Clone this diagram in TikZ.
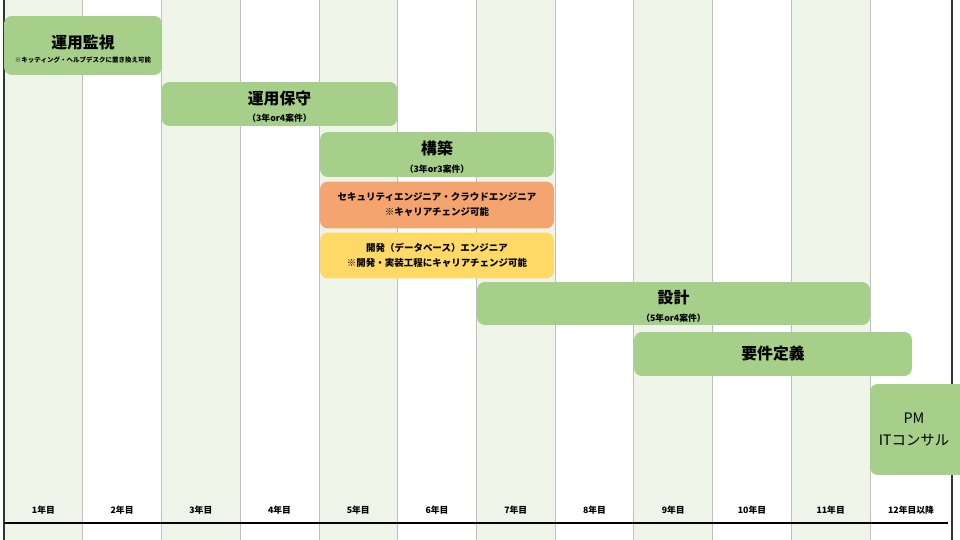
\documentclass[tikz,border=0pt]{standalone}
\usepackage{fontspec}
\setmainfont{Noto Sans CJK JP}
\usetikzlibrary{positioning}
\definecolor{colg}{HTML}{EEF5E8}
\definecolor{barg}{HTML}{A6D08A}
\definecolor{baro}{HTML}{F4A46F}
\definecolor{bary}{HTML}{FFD966}
\newcommand{\subtxt}[1]{{\fontsize{5}{6}\selectfont #1}}
\newcommand{\tstrut}[1]{\rule{0pt}{#1}}

\begin{document}
\begin{tikzpicture}[x=0.02cm, y=-0.02cm,
  bar/.style={fill=barg, rounded corners=4.5pt, align=center, inner sep=0pt, font=\fontsize{9}{10}\selectfont\bfseries},
  sbar/.style={bar, font=\fontsize{5.4}{8.5}\selectfont\bfseries},
  yr/.style={font=\fontsize{5}{6}\selectfont\bfseries},
  sep/.style={draw=black!25, line width=0.4pt},
]
\useasboundingbox (0,0) rectangle (960,540);
\fill[white] (0,0) rectangle (960,540);
% year columns
\foreach \i in {1,3,...,11}
  \fill[colg] ({4+78.73*(\i-1)},0) rectangle ({4+78.73*\i},540);
\foreach \i in {1,...,11}
  \draw[sep] ({4+78.73*\i},0) -- ({4+78.73*\i},540);
\draw[black!80, line width=0.9pt] (4,0) -- (4,540);
\draw[black!80, line width=0.9pt] (952,0) -- (952,540);
\foreach \i in {1,...,11}
  \node[yr] (y\i) at ({4+78.73*(\i-0.5)},510) {\i 年目};
\node[yr] (y12) at (911,510) {12年目以降};
\coordinate (hl) at (4,523);
\coordinate (hr) at (948,523);
\draw[black, line width=0.8pt] (hl) -- (hr);

% bars
\node[bar, minimum width=3.16cm, minimum height=1.18cm] (kanshi) at (83,45.5)
  {\tstrut{12pt}運用監視\\[-2pt]{\fontsize{3.7}{4.5}\selectfont ※キッティング・ヘルプデスクに置き換え可能}};
\node[bar, minimum width=4.72cm, minimum height=0.88cm] (hoshu) at (279.5,104)
  {\tstrut{10.7pt}運用保守\\[0pt]\subtxt{（3年or4案件）}};
\node[bar, minimum width=4.68cm, minimum height=0.9cm] (kochiku) at (437,154.5)
  {\tstrut{10.7pt}構築\\[0pt]\subtxt{（3年or3案件）}};
\node[sbar, fill=baro, minimum width=4.68cm, minimum height=0.94cm] (sec) at (437,205)
  {セキュリティエンジニア・クラウドエンジニア\\※キャリアチェンジ可能};
\node[sbar, fill=bary, minimum width=4.68cm, minimum height=0.92cm] (dev) at (437,255.5)
  {開発（データベース）エンジニア\\※開発・実装工程にキャリアチェンジ可能};
\node[bar, minimum width=7.86cm, minimum height=0.86cm] (sekkei) at (673.5,303.5)
  {\tstrut{10.7pt}設計\\[0pt]\subtxt{（5年or4案件）}};
\node[bar, minimum width=5.56cm, minimum height=0.88cm] (yoken) at (773,354) {要件定義};
\node[bar, minimum width=2.4cm, minimum height=1.82cm] (pm) at (930,429.5) {};
\node[align=center, font=\fontsize{8.2}{12.5}\selectfont] (pmtxt) at (914,429.5) {PM\\ITコンサル};
\end{tikzpicture}
\end{document}
